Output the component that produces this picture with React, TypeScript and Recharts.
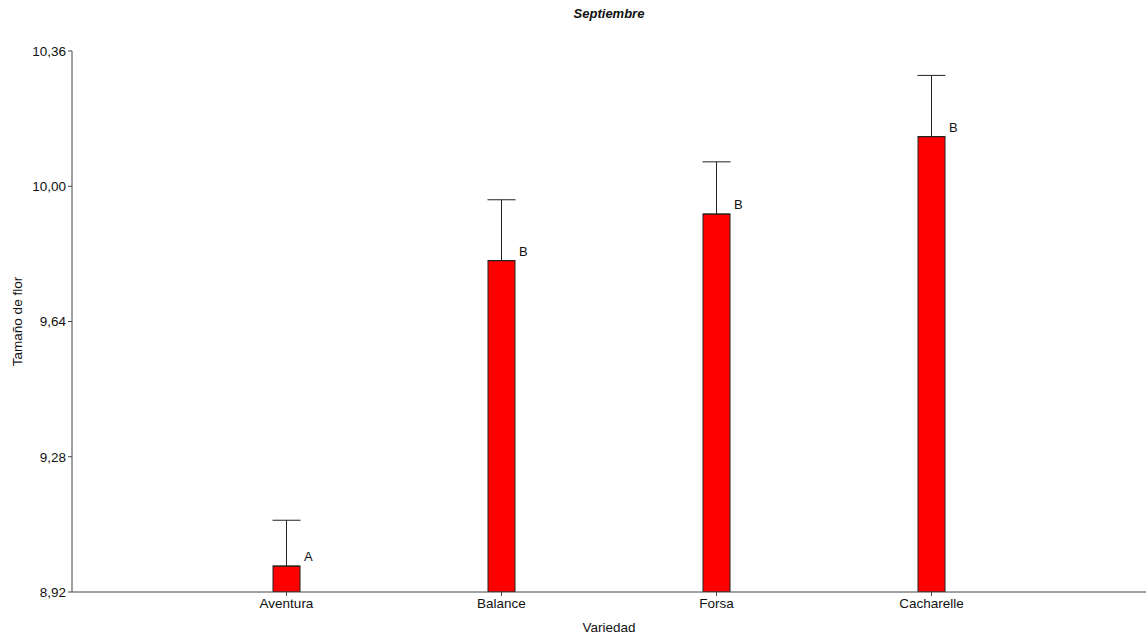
import React from "react";
import { BarChart, Bar, XAxis, YAxis, ErrorBar, LabelList, Label } from "recharts";

const variedades = ["Aventura", "Balance", "Forsa", "Cacharelle"];
const medias = [8.989, 9.802, 9.926, 10.132];
const errores = [0.122, 0.162, 0.139, 0.163];
const letras = ["A", "B", "B", "B"];
const yTicks = [8.92, 9.28, 9.64, 10.0, 10.36];

const data = variedades.map((v, i) => ({
  name: v,
  media: medias[i],
  err: [0, errores[i]],
  letra: letras[i],
}));

const FONT = "'Liberation Sans', Arial, sans-serif";
const fmt = (v: number) => v.toFixed(2).replace(".", ",");

const LetraLabel = (props: any) => {
  const { x, y, width, value } = props;
  return (
    <text x={x + width + 4} y={y - 5} fontSize={13} fontFamily={FONT} fill="#111">
      {value}
    </text>
  );
};

const YLabel = (props: any) => {
  const { viewBox } = props;
  const cx = viewBox.x + 17;
  const cy = viewBox.y + viewBox.height / 2;
  return (
    <text
      x={cx}
      y={cy}
      transform={`rotate(-90, ${cx}, ${cy})`}
      textAnchor="middle"
      dominantBaseline="central"
      fontSize={13.5}
      fontFamily={FONT}
      fill="#111"
    >
      Tamaño de flor
    </text>
  );
};

export default function App() {
  return (
    <div style={{ position: "absolute", left: 0, top: 0, width: 1146, height: 642, background: "#fff" }}>
      <div
        style={{
          position: "absolute",
          left: 0,
          top: 6,
          width: 1218,
          textAlign: "center",
          fontFamily: FONT,
          fontSize: 13,
          fontWeight: "bold",
          fontStyle: "italic",
          color: "#111",
        }}
      >
        Septiembre
      </div>
      <BarChart
        width={1146}
        height={642}
        data={data}
        margin={{ top: 51, right: 0, bottom: 0, left: 0 }}
      >
        <XAxis
          dataKey="name"
          height={50}
          padding={{ left: 107, right: 107 }}
          tick={{ fill: "#111", fontSize: 13.5, fontFamily: FONT }}
          tickSize={4}
          axisLine={{ stroke: "#444" }}
          tickLine={{ stroke: "#444" }}
        >
          <Label value="Variedad" position="insideBottom" offset={10} fill="#111" fontSize={13.5} fontFamily={FONT} />
        </XAxis>
        <YAxis
          width={72}
          domain={[8.92, 10.36]}
          ticks={yTicks}
          allowDataOverflow
          tickFormatter={fmt}
          tick={{ fill: "#111", fontSize: 13.5, fontFamily: FONT }}
          tickSize={4}
          axisLine={{ stroke: "#444" }}
          tickLine={{ stroke: "#444" }}
          label={<YLabel />}
        />
        <Bar dataKey="media" fill="#ff0000" stroke="#222" strokeWidth={1} barSize={27} isAnimationActive={false}>
          <ErrorBar dataKey="err" width={14} stroke="#222" strokeWidth={1} direction="y" />
          <LabelList dataKey="letra" content={<LetraLabel />} />
        </Bar>
      </BarChart>
    </div>
  );
}
